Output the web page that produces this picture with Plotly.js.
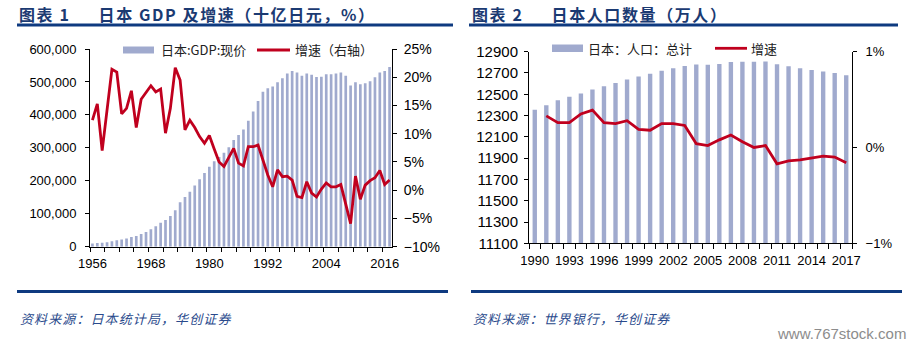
<!DOCTYPE html>
<html>
<head>
<meta charset="utf-8">
<script src="https://cdn.plot.ly/plotly-3.0.1.min.js"></script>
<style>
  html, body { margin: 0; padding: 0; background: #ffffff; }
  #chart { width: 914px; height: 350px; }
  #chart g.annotation[data-index="0"] text,
  #chart g.annotation[data-index="1"] text { letter-spacing: 1.6px; }
  #chart g.annotation[data-index="6"] text,
  #chart g.annotation[data-index="7"] text { letter-spacing: 1.1px; }
</style>
</head>
<body>
<div id="chart"></div>
<script>
// ---------- Chart 1: Japan nominal GDP (billion yen) and growth (%) ----------
const gdpYears = [1956,1957,1958,1959,1960,1961,1962,1963,1964,1965,
  1966,1967,1968,1969,1970,1971,1972,1973,1974,1975,
  1976,1977,1978,1979,1980,1981,1982,1983,1984,1985,
  1986,1987,1988,1989,1990,1991,1992,1993,1994,1995,
  1996,1997,1998,1999,2000,2001,2002,2003,2004,2005,
  2006,2007,2008,2009,2010,2011,2012,2013,2014,2015,
  2016,2017];
const gdpValues = [9500,11000,12000,13500,16500,19500,21500,25000,29500,32500,
  38500,44500,53000,62000,73000,81000,93000,111000,135000,151000,
  167000,186000,205000,224000,243000,259000,272000,285000,302000,324000,
  339000,356000,382000,410000,442000,470000,481000,486000,499000,511000,
  526000,533000,529000,519000,526000,522000,515000,516000,523000,523000,
  526000,529000,519000,489000,499000,493000,496000,502000,514000,529000,
  533000,545000];
const gdpGrowth = [12.4,15.3,7.0,13.9,21.4,20.9,13.5,14.5,17.6,11.1,
  16.1,17.3,18.5,17.4,17.9,10.1,14.5,21.7,19.5,10.7,
  12.4,11.1,9.5,8.3,9.7,7.3,5.0,4.2,5.9,7.4,
  4.8,4.3,7.7,7.7,8.0,5.2,2.7,0.6,3.6,2.4,
  2.5,1.8,-1.1,-1.3,1.5,-0.5,-1.2,0.2,1.3,0.6,
  0.6,1.0,-2.3,-5.9,2.5,-1.6,0.9,1.7,2.2,3.5,
  1.0,1.8];
const gdpTickLabels = [1956,1968,1980,1992,2004,2016];

// ---------- Chart 2: Japan population (10k persons) and growth (%) ----------
const popYears = [1990,1991,1992,1993,1994,1995,1996,1997,1998,1999,
  2000,2001,2002,2003,2004,2005,2006,2007,2008,2009,
  2010,2011,2012,2013,2014,2015,2016,2017];
const popValues = [12354,12397,12443,12477,12507,12544,12576,12606,12640,12667,
  12692,12721,12744,12765,12779,12777,12785,12803,12806,12805,
  12807,12783,12763,12744,12728,12714,12699,12679];
const popGrowth = [null,0.33,0.26,0.26,0.35,0.39,0.26,0.25,0.28,0.19,
  0.18,0.25,0.25,0.23,0.04,0.02,0.08,0.13,0.06,0.00,
  0.02,-0.17,-0.14,-0.13,-0.11,-0.09,-0.10,-0.16];
const popTickLabels = [1990,1993,1996,1999,2002,2005,2008,2011,2014,2017];

// ---------- text ----------
const title1 = "图表 1　  日本 GDP 及增速（十亿日元，%）";
const title2 = "图表 2　  日本人口数量（万人）";
const legend1 = ["日本:GDP:现价", "增速（右轴）"];
const legend2 = ["日本：人口：总计", "增速"];
const source1 = "资料来源：日本统计局，华创证券";
const source2 = "资料来源：世界银行，华创证券";
const watermark = "www.767stock.com";

// ---------- styling ----------
const W = 914, H = 350;
const px = x => x / W;
const py = y => 1 - y / H;
const barColor = "#A0AACE";
const lineColor = "#C0001E";
const navy = "#0E3A80";
const titleColor = "#1B3A72";
const cjk = "Noto Sans CJK SC, sans-serif";
const latin = "Liberation Sans, Arial, sans-serif";

const traces = [
  { type: "bar", x: gdpYears, y: gdpValues, xaxis: "x", yaxis: "y",
    width: 0.55, marker: { color: barColor }, hoverinfo: "skip" },
  { type: "scatter", mode: "lines", x: gdpYears, y: gdpGrowth, xaxis: "x", yaxis: "y2",
    line: { color: lineColor, width: 2.8 }, hoverinfo: "skip" },
  { type: "bar", x: popYears, y: popValues, xaxis: "x2", yaxis: "y3",
    width: 0.38, marker: { color: barColor }, hoverinfo: "skip" },
  { type: "scatter", mode: "lines", x: popYears, y: popGrowth, xaxis: "x2", yaxis: "y4",
    line: { color: lineColor, width: 2.8 }, hoverinfo: "skip", connectgaps: false }
];

const axisCommon = {
  showgrid: false, zeroline: false, showline: true, linecolor: "#000", linewidth: 1,
  tickcolor: "#000", fixedrange: true
};

const layout = {
  width: W, height: H,
  margin: { l: 0, r: 0, t: 0, b: 0, pad: 0 },
  paper_bgcolor: "#ffffff", plot_bgcolor: "rgba(0,0,0,0)",
  showlegend: false,
  font: { family: latin, color: "#000", size: 13 },
  xaxis: Object.assign({}, axisCommon, {
    domain: [px(90), px(392)], anchor: "y",
    range: [1955.5, 2017.5], tickmode: "array", tickvals: gdpTickLabels,
    ticktext: gdpTickLabels.map(String),
    ticks: "", tickfont: { size: 13 }, ticklabelstandoff: 5,
    minor: { tick0: 1955.5, dtick: 3, ticks: "outside", ticklen: 4, tickcolor: "#000", showgrid: false }
  }),
  yaxis: Object.assign({}, axisCommon, {
    domain: [py(246.7), py(49)], anchor: "x",
    range: [0, 600000], tick0: 0, dtick: 100000, tickformat: ",d",
    ticks: "outside", ticklen: 4, tickfont: { size: 13 }, ticklabelstandoff: 6
  }),
  yaxis2: Object.assign({}, axisCommon, {
    overlaying: "y", side: "right", anchor: "x",
    range: [-10, 25], tick0: 0, dtick: 5, ticksuffix: "%",
    ticks: "outside", ticklen: 4, tickfont: { size: 14 }, ticklabelstandoff: 4
  }),
  xaxis2: Object.assign({}, axisCommon, {
    domain: [px(529), px(852)], anchor: "y3",
    range: [1989.5, 2017.5], tickmode: "array", tickvals: popTickLabels,
    ticktext: popTickLabels.map(String),
    ticks: "", tickfont: { size: 13 }, ticklabelstandoff: 5,
    minor: { tick0: 1989.5, dtick: 1, ticks: "outside", ticklen: 5, tickcolor: "#000", showgrid: false }
  }),
  yaxis3: Object.assign({}, axisCommon, {
    domain: [py(243.3), py(51.7)], anchor: "x2",
    range: [11100, 12900], tick0: 11100, dtick: 200, tickformat: "d",
    ticks: "outside", ticklen: 4, tickfont: { size: 15 }, ticklabelstandoff: 3
  }),
  yaxis4: Object.assign({}, axisCommon, {
    overlaying: "y3", side: "right", anchor: "x2",
    range: [-1, 1], tick0: 0, dtick: 1, ticksuffix: "%",
    ticks: "outside", ticklen: 4, tickfont: { size: 13 }, ticklabelstandoff: 6
  }),
  shapes: [
    // title rules
    { type: "line", xref: "paper", yref: "paper", x0: px(17), x1: px(453), y0: py(25), y1: py(25), line: { color: navy, width: 3 } },
    { type: "line", xref: "paper", yref: "paper", x0: px(469), x1: px(898), y0: py(25), y1: py(25), line: { color: navy, width: 3 } },
    // footer rules
    { type: "line", xref: "paper", yref: "paper", x0: px(17), x1: px(448), y0: py(291.5), y1: py(291.5), line: { color: navy, width: 3 } },
    { type: "line", xref: "paper", yref: "paper", x0: px(471), x1: px(902), y0: py(291.5), y1: py(291.5), line: { color: navy, width: 3 } },
    // legend keys chart 1
    { type: "rect", xref: "paper", yref: "paper", x0: px(123), x1: px(154), y0: py(53.5), y1: py(46.5), fillcolor: barColor, line: { width: 0 } },
    { type: "line", xref: "paper", yref: "paper", x0: px(257), x1: px(290), y0: py(50), y1: py(50), line: { color: lineColor, width: 2.8 } },
    // legend keys chart 2
    { type: "rect", xref: "paper", yref: "paper", x0: px(552), x1: px(583), y0: py(52), y1: py(44.5), fillcolor: barColor, line: { width: 0 } },
    { type: "line", xref: "paper", yref: "paper", x0: px(715), x1: px(747), y0: py(48.3), y1: py(48.3), line: { color: lineColor, width: 2.8 } }
  ],
  annotations: [
    { text: "<b>" + title1 + "</b>", xref: "paper", yref: "paper", x: px(17), y: py(14), xanchor: "left", yanchor: "middle", align: "left", showarrow: false,
      font: { family: cjk, size: 16, color: titleColor } },
    { text: "<b>" + title2 + "</b>", xref: "paper", yref: "paper", x: px(470), y: py(14), xanchor: "left", yanchor: "middle", align: "left", showarrow: false,
      font: { family: cjk, size: 16, color: titleColor } },
    { text: legend1[0], xref: "paper", yref: "paper", x: px(159), y: py(50), xanchor: "left", yanchor: "middle", showarrow: false,
      font: { family: cjk, size: 13, color: "#222" } },
    { text: legend1[1], xref: "paper", yref: "paper", x: px(293), y: py(50), xanchor: "left", yanchor: "middle", showarrow: false,
      font: { family: cjk, size: 13, color: "#222" } },
    { text: legend2[0], xref: "paper", yref: "paper", x: px(586), y: py(48.3), xanchor: "left", yanchor: "middle", showarrow: false,
      font: { family: cjk, size: 13, color: "#222" } },
    { text: legend2[1], xref: "paper", yref: "paper", x: px(749), y: py(48.3), xanchor: "left", yanchor: "middle", showarrow: false,
      font: { family: cjk, size: 13, color: "#222" } },
    { text: source1, xref: "paper", yref: "paper", x: px(18), y: py(318), xanchor: "left", yanchor: "middle", align: "left", showarrow: false,
      font: { family: cjk, size: 13, color: "#2A4A8C", style: "italic" } },
    { text: source2, xref: "paper", yref: "paper", x: px(471), y: py(318), xanchor: "left", yanchor: "middle", align: "left", showarrow: false,
      font: { family: cjk, size: 13, color: "#2A4A8C", style: "italic" } },
    { text: watermark, xref: "paper", yref: "paper", x: px(908), y: py(333), xanchor: "right", yanchor: "middle", showarrow: false,
      font: { family: latin, size: 15, color: "#8c8c8c" } }
  ]
};

Plotly.newPlot("chart", traces, layout, { staticPlot: true, displayModeBar: false });
</script>
</body>
</html>
